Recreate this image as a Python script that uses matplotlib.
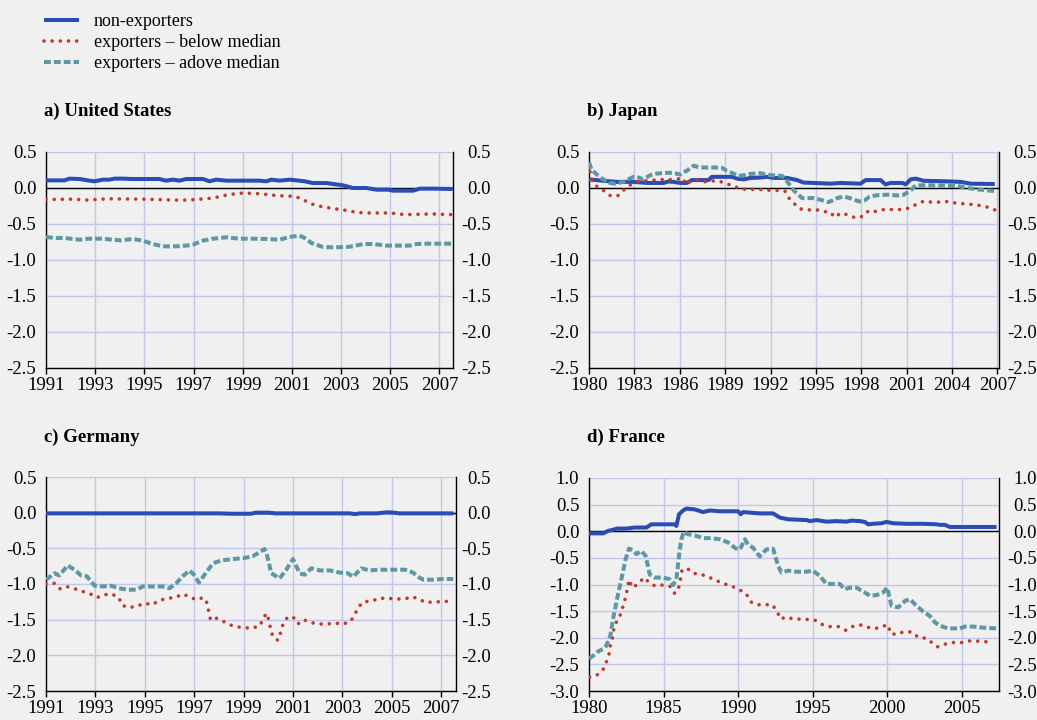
import matplotlib
matplotlib.use("Agg")
import matplotlib.pyplot as plt
from matplotlib.lines import Line2D
import numpy as np

plt.rcParams['font.family'] = ['Liberation Serif', 'DejaVu Serif']

# ---------------- data ----------------
labels = ["non-exporters", "exporters \u2013 below median", "exporters \u2013 adove median"]
titles = ["a) United States", "b) Japan", "c) Germany", "d) France"]

# a) United States
us_non_x = [1991.00, 1991.75, 1991.95, 1992.36, 1992.70, 1992.97, 1993.31, 1993.58, 1993.78, 1994.12,
            1994.53, 1995.07, 1995.61, 1995.88, 1996.16, 1996.43, 1996.70, 1997.38, 1997.65, 1997.92,
            1998.33, 1999.01, 1999.68, 1999.96, 2000.16, 2000.50, 2000.91, 2001.18, 2001.52, 2001.85,
            2002.40, 2002.67, 2003.08, 2003.48, 2004.03, 2004.43, 2004.91, 2005.11, 2005.93, 2006.20,
            2006.74, 2007.53]
us_non_y = [0.106, 0.106, 0.13, 0.125, 0.106, 0.093, 0.116, 0.116, 0.13, 0.13,
            0.125, 0.125, 0.125, 0.102, 0.116, 0.102, 0.125, 0.125, 0.093, 0.116,
            0.102, 0.102, 0.102, 0.093, 0.116, 0.102, 0.116, 0.106, 0.093, 0.069,
            0.069, 0.056, 0.037, 0.0, 0.0, -0.023, -0.023, -0.037, -0.037, -0.009,
            -0.009, -0.014]
us_below_x = [1991.0, 1992.0, 1992.7, 1993.5, 1995.0, 1996.5, 1997.1, 1997.8, 1998.4, 1999.0,
              1999.7, 2000.4, 2001.1, 2001.4, 2001.7, 2002.0, 2002.7, 2003.3, 2003.6, 2004.0,
              2005.0, 2005.6, 2006.7, 2007.5]
us_below_y = [-0.16, -0.155, -0.167, -0.15, -0.155, -0.17, -0.16, -0.14, -0.093, -0.07,
              -0.08, -0.106, -0.116, -0.15, -0.208, -0.245, -0.287, -0.315, -0.338, -0.347,
              -0.347, -0.37, -0.36, -0.37]
us_above_x = [1991.00, 1991.34, 1991.75, 1992.36, 1992.76, 1993.31, 1993.71, 1994.05, 1994.53, 1994.93,
              1995.34, 1995.75, 1996.29, 1996.70, 1996.97, 1997.38, 1997.78, 1998.33, 1998.87, 1999.41,
              1999.96, 2000.50, 2000.91, 2001.31, 2001.52, 2001.79, 2002.26, 2002.67, 2003.21, 2003.48,
              2003.89, 2004.30, 2004.84, 2005.38, 2005.79, 2006.06, 2006.47, 2007.01, 2007.53]
us_above_y = [-0.68, -0.694, -0.694, -0.718, -0.704, -0.704, -0.718, -0.727, -0.708, -0.731,
              -0.778, -0.81, -0.81, -0.80, -0.787, -0.731, -0.704, -0.685, -0.704, -0.704,
              -0.708, -0.718, -0.68, -0.662, -0.694, -0.764, -0.819, -0.824, -0.819, -0.81,
              -0.778, -0.778, -0.80, -0.80, -0.80, -0.778, -0.773, -0.773, -0.773]

# b) Japan
jp_non_x = [1980.00, 1980.95, 1981.83, 1982.94, 1983.82, 1984.92, 1985.25, 1985.58, 1986.03, 1986.47,
            1986.80, 1987.57, 1987.90, 1988.12, 1989.45, 1989.78, 1990.22, 1990.66, 1991.32, 1991.77,
            1992.21, 1993.09, 1993.75, 1994.19, 1994.86, 1995.96, 1996.62, 1997.95, 1998.28, 1999.27,
            1999.60, 1999.93, 2000.71, 2000.93, 2001.26, 2001.59, 2002.14, 2003.25, 2004.57, 2005.23,
            2006.82]
jp_non_y = [0.12, 0.10, 0.085, 0.085, 0.07, 0.07, 0.09, 0.085, 0.07, 0.07,
            0.11, 0.11, 0.11, 0.155, 0.155, 0.13, 0.12, 0.14, 0.145, 0.155,
            0.14, 0.14, 0.11, 0.075, 0.07, 0.06, 0.07, 0.06, 0.11, 0.11,
            0.05, 0.07, 0.07, 0.05, 0.12, 0.13, 0.10, 0.095, 0.085, 0.06,
            0.055]
jp_below_x = [1980.07, 1980.22, 1980.55, 1980.95, 1981.35, 1981.88, 1982.27, 1982.67, 1983.16, 1983.64,
              1984.15, 1984.66, 1985.19, 1985.70, 1986.20, 1986.42, 1986.64, 1987.09, 1987.57, 1988.06,
              1988.57, 1989.07, 1989.56, 1989.96, 1990.40, 1990.95, 1991.48, 1991.99, 1992.49, 1992.98,
              1993.20, 1993.58, 1993.97, 1994.53, 1995.08, 1995.52, 1995.96, 1996.23, 1996.67, 1997.11,
              1997.62, 1998.12, 1998.50, 1999.01, 1999.49, 2000.04, 2000.60, 2001.15, 2001.66, 2002.14,
              2002.65, 2003.20, 2003.73, 2004.24, 2004.79, 2005.34, 2005.85, 2006.34, 2006.82]
jp_below_y = [0.224, 0.098, 0.014, -0.033, -0.103, -0.112, -0.033, 0.037, 0.084, 0.098,
              0.107, 0.117, 0.117, 0.117, 0.14, 0.047, 0.084, 0.117, 0.084, 0.098,
              0.098, 0.061, 0.028, -0.009, -0.019, -0.019, -0.023, -0.033, -0.033, -0.047,
              -0.136, -0.22, -0.29, -0.304, -0.304, -0.327, -0.336, -0.407, -0.346, -0.374,
              -0.416, -0.393, -0.313, -0.327, -0.299, -0.299, -0.299, -0.28, -0.224, -0.182,
              -0.196, -0.196, -0.187, -0.21, -0.22, -0.229, -0.243, -0.266, -0.304]
jp_above_x = [1980.00, 1980.18, 1980.40, 1980.84, 1981.39, 1981.72, 1982.27, 1982.60, 1982.94, 1983.27,
              1983.60, 1984.04, 1984.48, 1985.03, 1985.59, 1986.03, 1986.25, 1986.47, 1986.69, 1986.91,
              1987.35, 1988.23, 1988.79, 1989.12, 1989.56, 1989.89, 1990.22, 1990.66, 1991.32, 1991.99,
              1992.76, 1993.09, 1993.53, 1994.08, 1994.86, 1995.30, 1995.85, 1996.40, 1996.84, 1997.40,
              1997.84, 1998.21, 1998.50, 1998.94, 1999.71, 2000.38, 2000.82, 2001.26, 2001.59, 2002.03,
              2003.25, 2004.35, 2005.01, 2005.67, 2006.34, 2006.89]
jp_above_y = [0.355, 0.248, 0.21, 0.131, 0.07, 0.061, 0.084, 0.121, 0.154, 0.145,
              0.121, 0.178, 0.20, 0.21, 0.21, 0.187, 0.224, 0.238, 0.28, 0.308,
              0.285, 0.285, 0.28, 0.238, 0.20, 0.168, 0.178, 0.196, 0.206, 0.178,
              0.168, 0.093, -0.033, -0.14, -0.14, -0.164, -0.196, -0.14, -0.117, -0.15,
              -0.187, -0.173, -0.126, -0.103, -0.093, -0.103, -0.093, -0.033, 0.037, 0.037,
              0.037, 0.028, 0.0, -0.019, -0.033, -0.042]

# c) Germany
de_non_x = [1991.0, 1998.0, 1998.5, 1999.3, 1999.5, 2000.0, 2000.3, 2003.3, 2003.5, 2003.7,
            2004.4, 2004.8, 2005.1, 2005.3, 2007.5]
de_non_y = [-0.01, -0.01, -0.015, -0.015, 0.0, 0.0, -0.01, -0.01, -0.02, -0.01,
            -0.01, 0.005, 0.0, -0.01, -0.01]
de_below_x = [1991.00, 1991.36, 1991.58, 1991.88, 1992.19, 1992.49, 1992.80, 1993.07, 1993.36, 1993.66,
              1993.95, 1994.08, 1994.38, 1994.69, 1994.99, 1995.30, 1995.59, 1995.91, 1996.23, 1996.54,
              1996.81, 1997.08, 1997.38, 1997.51, 1997.58, 1997.66, 1997.82, 1998.09, 1998.36, 1998.68,
              1998.97, 1999.31, 1999.65, 1999.78, 1999.92, 2000.03, 2000.09, 2000.19, 2000.39, 2000.50,
              2000.59, 2000.77, 2001.00, 2001.20, 2001.43, 2001.72, 2002.04, 2002.38, 2002.73, 2003.03,
              2003.32, 2003.50, 2003.64, 2003.84, 2004.18, 2004.49, 2004.82, 2005.16, 2005.50, 2005.84,
              2006.09, 2006.38, 2006.70, 2007.01, 2007.35]
de_below_y = [-1.00, -0.99, -1.07, -1.04, -1.07, -1.105, -1.14, -1.19, -1.15, -1.14,
              -1.19, -1.30, -1.33, -1.31, -1.27, -1.29, -1.23, -1.20, -1.19, -1.14,
              -1.18, -1.22, -1.19, -1.26, -1.37, -1.50, -1.47, -1.505, -1.56, -1.60,
              -1.61, -1.62, -1.59, -1.50, -1.41, -1.51, -1.63, -1.74, -1.79, -1.68,
              -1.57, -1.47, -1.46, -1.56, -1.50, -1.54, -1.56, -1.56, -1.55, -1.56,
              -1.53, -1.43, -1.33, -1.25, -1.24, -1.20, -1.20, -1.21, -1.21, -1.18,
              -1.21, -1.26, -1.25, -1.25, -1.24]
de_above_x = [1991.00, 1991.34, 1991.54, 1991.88, 1992.15, 1992.42, 1992.65, 1992.97, 1993.30, 1993.64,
              1993.95, 1994.31, 1994.65, 1994.92, 1995.32, 1995.73, 1996.00, 1996.27, 1996.54, 1996.81,
              1996.99, 1997.19, 1997.42, 1997.76, 1998.09, 1998.57, 1998.97, 1999.38, 1999.85, 1999.92,
              2000.12, 2000.46, 2000.73, 2001.00, 2001.27, 2001.47, 2001.74, 2002.08, 2002.49, 2002.89,
              2003.23, 2003.43, 2003.77, 2004.11, 2004.45, 2004.85, 2005.19, 2005.53, 2005.86, 2006.07,
              2006.27, 2006.68, 2007.08, 2007.49]
de_above_y = [-0.94, -0.85, -0.88, -0.74, -0.80, -0.88, -0.89, -1.025, -1.035, -1.025,
              -1.06, -1.08, -1.08, -1.035, -1.035, -1.035, -1.06, -0.99, -0.89, -0.81,
              -0.87, -0.98, -0.87, -0.71, -0.67, -0.65, -0.64, -0.61, -0.51, -0.555,
              -0.85, -0.92, -0.80, -0.65, -0.85, -0.87, -0.78, -0.81, -0.81, -0.84,
              -0.85, -0.90, -0.78, -0.81, -0.80, -0.80, -0.80, -0.80, -0.84, -0.90,
              -0.94, -0.94, -0.93, -0.93]

# d) France
fr_non_x = [1980.00, 1980.94, 1981.28, 1981.57, 1981.88, 1982.51, 1983.06, 1983.85, 1984.18, 1984.74,
            1985.41, 1985.75, 1985.86, 1986.04, 1986.31, 1986.53, 1987.09, 1987.65, 1988.10, 1988.77,
            1989.44, 1990.00, 1990.18, 1990.34, 1990.78, 1991.45, 1992.35, 1992.80, 1993.36, 1994.59,
            1994.81, 1995.26, 1995.93, 1996.60, 1997.27, 1997.61, 1998.17, 1998.50, 1998.72, 1999.06,
            1999.62, 1999.96, 2000.40, 2001.30, 2002.42, 2003.31, 2003.53, 2003.87, 2004.21, 2004.54,
            2005.77, 2007.34]
fr_non_y = [-0.04, -0.04, 0.006, 0.025, 0.05, 0.05, 0.07, 0.07, 0.13, 0.13,
            0.13, 0.13, 0.10, 0.32, 0.39, 0.425, 0.41, 0.36, 0.39, 0.375,
            0.375, 0.375, 0.32, 0.36, 0.35, 0.335, 0.335, 0.256, 0.225, 0.21,
            0.19, 0.21, 0.18, 0.19, 0.18, 0.20, 0.19, 0.175, 0.13, 0.14,
            0.15, 0.175, 0.15, 0.14, 0.14, 0.13, 0.12, 0.12, 0.08, 0.08,
            0.08, 0.08]
fr_below_x = [1980.04, 1980.54, 1980.94, 1981.16, 1981.34, 1981.43, 1981.57, 1981.66, 1981.83, 1982.06,
              1982.24, 1982.39, 1982.51, 1982.62, 1982.68, 1982.91, 1983.29, 1983.69, 1984.03, 1984.41,
              1984.97, 1985.48, 1985.75, 1986.04, 1986.15, 1986.24, 1986.60, 1986.98, 1987.54, 1988.10,
              1988.99, 1989.55, 1990.04, 1990.34, 1990.56, 1990.83, 1991.34, 1991.86, 1992.30, 1992.62,
              1992.86, 1993.20, 1993.74, 1994.36, 1994.77, 1995.15, 1995.71, 1996.15, 1996.71, 1997.23,
              1997.67, 1998.21, 1998.79, 1999.24, 1999.62, 2000.07, 2000.22, 2000.63, 2001.07, 2001.63,
              2002.08, 2002.60, 2003.09, 2003.38, 2003.87, 2004.43, 2004.99, 2005.44, 2005.95, 2006.56,
              2007.11]
fr_below_y = [-2.74, -2.70, -2.60, -2.46, -2.31, -2.15, -2.01, -1.85, -1.71, -1.60,
              -1.45, -1.31, -1.17, -1.01, -0.91, -1.06, -0.99, -0.87, -0.96, -1.025,
              -1.01, -1.04, -1.17, -1.04, -0.88, -0.725, -0.70, -0.79, -0.81, -0.87,
              -0.98, -1.03, -1.09, -1.14, -1.18, -1.325, -1.38, -1.38, -1.38, -1.51,
              -1.65, -1.61, -1.65, -1.65, -1.66, -1.67, -1.76, -1.79, -1.79, -1.86,
              -1.79, -1.76, -1.81, -1.825, -1.79, -1.76, -1.92, -1.94, -1.89, -1.89,
              -1.99, -2.01, -2.11, -2.17, -2.12, -2.09, -2.09, -2.06, -2.06, -2.075,
              -2.075]
fr_above_x = [1980.00, 1980.27, 1980.60, 1980.94, 1981.16, 1981.43, 1981.61, 1981.88, 1982.17, 1982.46,
              1982.68, 1982.91, 1983.18, 1983.51, 1983.80, 1984.07, 1984.41, 1984.97, 1985.41, 1985.64,
              1985.86, 1986.09, 1986.20, 1986.35, 1986.64, 1987.20, 1987.65, 1988.21, 1988.77, 1989.33,
              1989.78, 1990.04, 1990.18, 1990.45, 1990.67, 1991.01, 1991.45, 1991.90, 1992.35, 1992.68,
              1992.91, 1993.36, 1993.92, 1994.59, 1995.03, 1995.48, 1995.93, 1996.38, 1996.82, 1997.16,
              1997.49, 1997.94, 1998.50, 1998.84, 1999.28, 1999.73, 2000.00, 2000.29, 2000.74, 2001.19,
              2001.52, 2001.97, 2002.42, 2002.86, 2003.20, 2003.53, 2004.09, 2004.88, 2005.21, 2005.77,
              2006.44, 2007.34]
fr_above_y = [-2.39, -2.34, -2.26, -2.21, -2.15, -1.96, -1.65, -1.275, -0.90, -0.525,
              -0.325, -0.35, -0.43, -0.37, -0.46, -0.81, -0.87, -0.87, -0.90, -1.01,
              -0.90, -0.34, -0.15, -0.0125, -0.056, -0.0875, -0.13, -0.13, -0.15, -0.21,
              -0.31, -0.35, -0.31, -0.15, -0.25, -0.31, -0.475, -0.34, -0.33, -0.65,
              -0.775, -0.74, -0.76, -0.76, -0.74, -0.84, -0.99, -0.99, -0.99, -1.09,
              -1.06, -1.06, -1.15, -1.21, -1.20, -1.15, -1.06, -1.40, -1.43, -1.31,
              -1.275, -1.40, -1.51, -1.59, -1.71, -1.775, -1.825, -1.825, -1.79, -1.79,
              -1.81, -1.825]

# ---------------- style ----------------
BG = "#f0f0f0"
C_NON = "#2b4db3"
C_BELOW = "#c0392b"
C_ABOVE = "#5f98a4"
GRID = "#c3c6ec"
FS = 13.5

W, H = 1037, 720
fig = plt.figure(figsize=(W / 100, H / 100), dpi=100, facecolor=BG)


def rect(l, r, t, b):
    return [l / W, 1 - b / H, (r - l) / W, (b - t) / H]


PX = 72 / 100  # points per pixel

panels = [
    dict(rect=rect(46, 453, 152, 368), xlim=(1991, 2007.55), xticks=list(range(1991, 2008, 2)),
         ylim=(-2.5, 0.5), yticks=np.arange(-2.5, 0.51, 0.5),
         series=[(us_non_x, us_non_y), (us_below_x, us_below_y), (us_above_x, us_above_y)],
         title_xy=(44, 111), rpad=38),
    dict(rect=rect(589, 999, 152, 368), xlim=(1980, 2007.1), xticks=list(range(1980, 2008, 3)),
         ylim=(-2.5, 0.5), yticks=np.arange(-2.5, 0.51, 0.5),
         series=[(jp_non_x, jp_non_y), (jp_below_x, jp_below_y), (jp_above_x, jp_above_y)],
         title_xy=(587, 111), rpad=38),
    dict(rect=rect(46, 456, 477, 691), xlim=(1991, 2007.6), xticks=list(range(1991, 2008, 2)),
         ylim=(-2.5, 0.5), yticks=np.arange(-2.5, 0.51, 0.5),
         series=[(de_non_x, de_non_y), (de_below_x, de_below_y), (de_above_x, de_above_y)],
         title_xy=(44, 437), rpad=35),
    dict(rect=rect(589, 999, 478, 691), xlim=(1980, 2007.5), xticks=list(range(1980, 2006, 5)),
         ylim=(-3.0, 1.0), yticks=np.arange(-3.0, 1.01, 0.5),
         series=[(fr_non_x, fr_non_y), (fr_below_x, fr_below_y), (fr_above_x, fr_above_y)],
         title_xy=(587, 437), rpad=38),
]

styles = [
    dict(color=C_NON, lw=2.9, ls='-', solid_capstyle='butt'),
    dict(color=C_BELOW, lw=2.6, ls=(0, (0.01, 2.25)), dash_capstyle='round'),
    dict(color=C_ABOVE, lw=2.9, ls=(0, (1.7, 0.75)), dash_capstyle='butt'),
]

for p, title in zip(panels, titles):
    ax = fig.add_axes(p['rect'])
    ax.set_facecolor(BG)
    ax.set_xlim(*p['xlim'])
    ax.set_ylim(*p['ylim'])
    ax.set_xticks(p['xticks'])
    ax.set_xticklabels([str(t) for t in p['xticks']])
    ax.set_yticks(p['yticks'])
    ax.set_yticklabels([f"{v:.1f}" for v in p['yticks']])
    ax.grid(True, color=GRID, lw=1.0)
    ax.set_axisbelow(True)
    ax.tick_params(axis='x', direction='out', length=4.5, width=1.0, pad=2, labelsize=FS, color='black')
    ax.tick_params(axis='y', length=0, pad=7, labelsize=FS)
    for s in ['left', 'right', 'bottom']:
        ax.spines[s].set_color('black')
        ax.spines[s].set_linewidth(1.0)
    ax.spines['top'].set_visible(False)
    ax.axhline(0, color='black', lw=1.0, zorder=2)
    for (xs, ys), st in zip(p['series'], styles):
        ax.plot(xs, ys, zorder=3, **st)

    ax2 = ax.twinx()
    ax2.set_ylim(*p['ylim'])
    ax2.set_yticks(p['yticks'])
    ax2.set_yticklabels([f"{v:.1f}" for v in p['yticks']])
    ax2.tick_params(axis='y', length=0, pad=p['rpad'] * PX, labelsize=FS)
    for t in ax2.yaxis.get_major_ticks():
        t.label2.set_horizontalalignment('right')
    for s in ax2.spines.values():
        s.set_visible(False)

    fig.text(p['title_xy'][0] / W, 1 - p['title_xy'][1] / H, title, fontsize=FS,
             fontweight='bold', va='center', ha='left')

handles = [Line2D([], [], **st) for st in styles]
fig.legend(handles, labels, loc='upper left', bbox_to_anchor=(44 / W, 1 - 13 / H),
           frameon=False, fontsize=13, handlelength=1.95, handletextpad=0.8,
           labelspacing=0.22, borderpad=0, borderaxespad=0)

fig.savefig("out.png", dpi=100, facecolor=BG)
